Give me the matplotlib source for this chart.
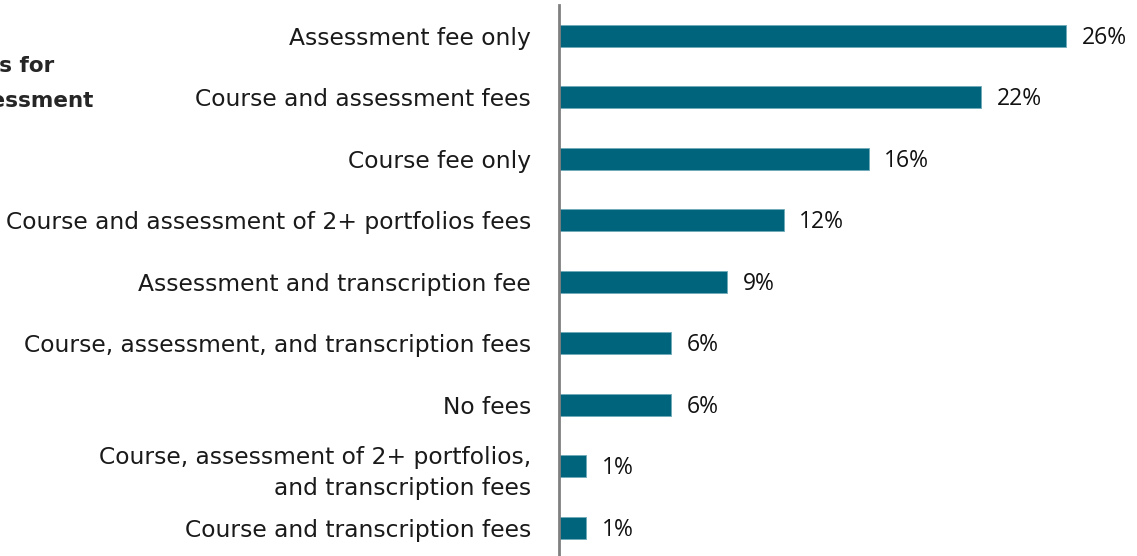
import matplotlib.pyplot as plt

categories = [
    "Assessment fee only",
    "Course and assessment fees",
    "Course fee only",
    "Course and assessment of 2+ portfolios fees",
    "Assessment and transcription fee",
    "Course, assessment, and transcription fees",
    "No fees",
    "Course, assessment of 2+ portfolios,\nand transcription fees",
    "Course and transcription fees",
]
values = [26.2, 21.8, 16.0, 11.6, 8.7, 5.8, 5.8, 1.4, 1.4]
value_labels = ["26%", "22%", "16%", "12%", "9%", "6%", "6%", "1%", "1%"]

W, H = 1137, 556
fig = plt.figure(figsize=(W / 100, H / 100), dpi=100)
ax = fig.add_axes([559 / W, 0, 1 - 559 / W, (H - 5) / H])

bar_color = "#00657c"
y = list(range(len(categories)))
ax.barh(y, values, height=0.36, color=bar_color, edgecolor="#6fa9b8", linewidth=0.6)

ax.set_xlim(0, 29.85)
ax.set_ylim(8.46, -0.5)

for yi, v, lab in zip(y, values, value_labels):
    ax.text(v + 0.8, yi + 0.03, lab, va="center", ha="left", fontsize=16.5,
            family="Open Sans", color="#111111")

ax.set_yticks(y)
ax.set_yticklabels(categories, fontsize=16.8, family="DejaVu Sans", color="#1a1a1a",
                   ha="right", linespacing=1.45)
ax.tick_params(axis="y", length=0, pad=20)
ax.set_xticks([])

for s in ["top", "right", "bottom"]:
    ax.spines[s].set_visible(False)
ax.spines["left"].set_color("#808080")
ax.spines["left"].set_linewidth(2)

# title, cut off on the left in the original
fig.text(54 / W, 1 - 66 / H, "Fees for", ha="right", va="center",
         fontsize=15.5, fontweight="bold", family="DejaVu Sans", color="#262626")
fig.text(93 / W, 1 - 101 / H, "Portfolio assessment", ha="right", va="center",
         fontsize=15.5, fontweight="bold", family="DejaVu Sans", color="#262626")

fig.savefig("out.png", dpi=100)
